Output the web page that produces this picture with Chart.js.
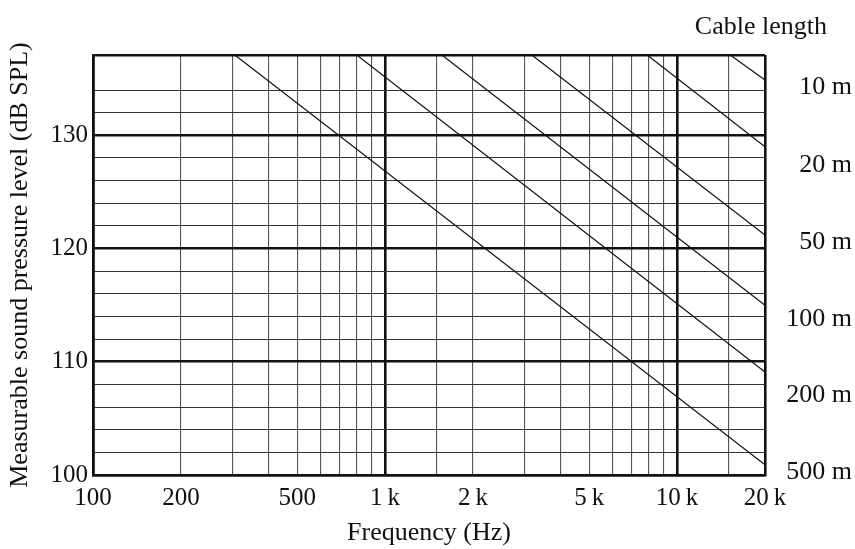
<!DOCTYPE html>
<html>
<head>
<meta charset="utf-8">
<script src="https://cdn.jsdelivr.net/npm/chart.js@4.4.0/dist/chart.umd.min.js"></script>
<style>
  html, body { margin: 0; padding: 0; background: #fff; }
  #wrap { width: 855px; height: 549px; }
</style>
</head>
<body>
<div id="wrap"><canvas id="myChart"></canvas></div>
<script>
const cableLabels = ['10 m', '20 m', '50 m', '100 m', '200 m', '500 m'];
// each line enters at the top edge of the plot and runs to 20 kHz
const startFreqs = [15200, 7900, 3180, 1565, 800, 306];
const topLevel = 137.1;
const endFreq = 20000;
const endLevels = [134.9, 129.0, 121.2, 115.0, 109.1, 100.9];
// where the cable length names sit on the right
const labelLevels = [134.25, 127.35, 120.55, 113.75, 107.05, 100.25];

const xTickValues = [100, 200, 500, 1000, 2000, 5000, 10000, 20000];
const xTickLabels = ['100', '200', '500', '1\u2009k', '2\u2009k', '5\u2009k', '10\u2009k', '20\u2009k'];
const xMajor = [100, 1000, 10000, 20000];
const yTickValues = [100, 110, 120, 130];

const serif = '"Liberation Serif", "Times New Roman", serif';
const ctx = document.getElementById('myChart').getContext('2d');

const near = (a, b) => Math.abs(a - b) < 1e-6;

const datasets = cableLabels.map((name, i) => ({
  label: name,
  data: [
    { x: startFreqs[i], y: topLevel },
    { x: endFreq, y: endLevels[i] }
  ],
  borderColor: '#111',
  borderWidth: 1.2,
  pointRadius: 0,
  fill: false,
  tension: 0
}));

const rightLabels = {
  id: 'rightLabels',
  afterDraw(chart) {
    const c = chart.ctx;
    const y = chart.scales.y;
    c.save();
    c.fillStyle = '#111';
    c.font = '26px ' + serif;
    c.textAlign = 'right';
    c.textBaseline = 'middle';
    cableLabels.forEach((name, i) => {
      c.fillText(name, 852, y.getPixelForValue(labelLevels[i]));
    });
    c.fillText('Cable length', 827, chart.chartArea.top - 28);
    c.restore();
  }
};

new Chart(ctx, {
  type: 'line',
  data: { datasets: datasets },
  options: {
    responsive: true,
    maintainAspectRatio: false,
    animation: false,
    events: [],
    layout: { padding: { left: 0, right: 90, top: 55, bottom: 0 } },
    plugins: {
      legend: { display: false },
      tooltip: { enabled: false }
    },
    scales: {
      x: {
        type: 'logarithmic',
        min: 100,
        max: 20000,
        afterFit: (scale) => { scale.height = 74; },
        grid: {
          drawTicks: false,
          color: (c) => xMajor.some(v => near(v, c.tick.value)) ? '#111' : '#555',
          lineWidth: (c) => xMajor.some(v => near(v, c.tick.value)) ? 2.6 : 1.1
        },
        border: { display: true, color: '#111', width: 2.6 },
        ticks: {
          autoSkip: false,
          maxRotation: 0,
          padding: 8,
          color: '#111',
          font: { family: serif, size: 25 },
          callback: (value) => {
            const idx = xTickValues.findIndex(v => near(v, value));
            return idx >= 0 ? xTickLabels[idx] : '';
          }
        },
        title: {
          display: true,
          text: 'Frequency (Hz)',
          color: '#111',
          font: { family: serif, size: 26 },
          padding: { top: 0, bottom: 0 }
        }
      },
      y: {
        type: 'linear',
        min: 100,
        max: topLevel,
        afterFit: (scale) => { scale.width = 93; },
        grid: {
          drawTicks: false,
          color: (c) => (near(c.tick.value % 10, 0) || near(c.tick.value, topLevel)) ? '#111' : '#333',
          lineWidth: (c) => (near(c.tick.value % 10, 0) || near(c.tick.value, topLevel)) ? 2.6 : 1.1
        },
        border: { display: true, color: '#111', width: 2.6 },
        ticks: {
          stepSize: 2,
          autoSkip: false,
          padding: 5,
          color: '#111',
          font: { family: serif, size: 25 },
          callback: (value) => yTickValues.some(v => near(v, value)) ? String(value) : ''
        },
        title: {
          display: true,
          text: 'Measurable sound pressure level (dB SPL)',
          color: '#111',
          font: { family: serif, size: 26 },
          padding: { top: 5, bottom: 0 }
        }
      }
    }
  },
  plugins: [rightLabels]
});
</script>
</body>
</html>
